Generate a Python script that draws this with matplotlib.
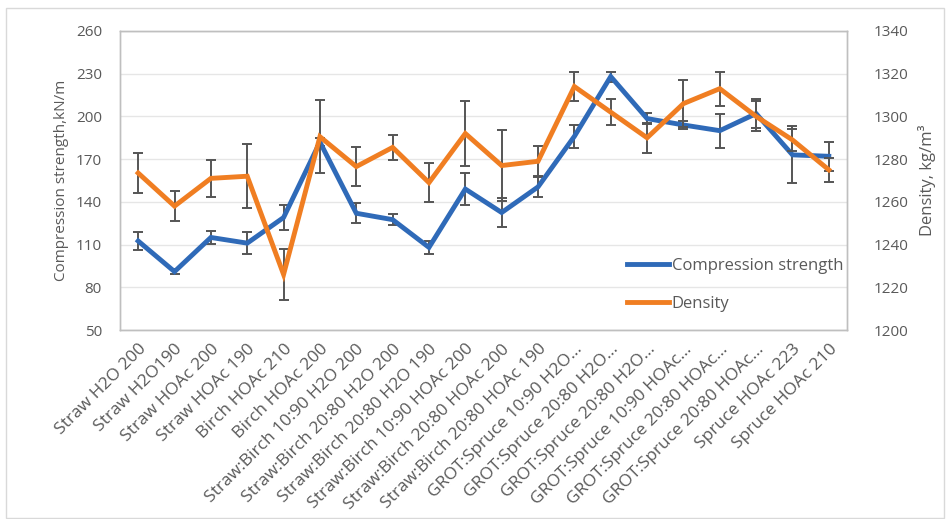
import matplotlib
matplotlib.use("Agg")
import matplotlib.pyplot as plt
from matplotlib.patches import Rectangle
from matplotlib.lines import Line2D
import numpy as np

categories = [
    "Straw H2O 200", "Straw H2O190", "Straw HOAc 200", "Straw HOAc 190",
    "Birch HOAc 210", "Birch HOAc 200", "Straw:Birch 10:90 H2O 200",
    "Straw:Birch 20:80 H2O 200", "Straw:Birch 20:80 H2O 190",
    "Straw:Birch 10:90 HOAc 200", "Straw:Birch 20:80 HOAc 200",
    "Straw:Birch 20:80 HOAc 190", "GROT:Spruce 10:90 H2O…",
    "GROT:Spruce 20:80 H2O…", "GROT:Spruce 20:80 H2O…",
    "GROT:Spruce 10:90 HOAc…", "GROT:Spruce 20:80 HOAc…",
    "GROT:Spruce 20:80 HOAc…", "Spruce HOAc 223", "Spruce HOAc 210",
]

strength = [112.5, 91, 115, 111, 129, 182, 132, 127.5, 108, 149,
            132.5, 150.5, 186, 228, 198.5, 194, 190, 202, 173, 172]
strength_err = [6, 2, 4.5, 7.5, 9, 3, 7, 4, 4.5, 11,
                10.5, 7, 8, 3.5, 4, 3, 12, 10, 20, 10]

density = [1273.5, 1258, 1271, 1272, 1226, 1290.5, 1276.5, 1285.5, 1269, 1292,
           1277, 1279, 1314, 1302, 1290, 1306, 1313, 1300, 1289, 1275]
density_err = [9.5, 7, 8.7, 15, 12, 17, 9, 6, 9, 15,
               16.5, 7, 7, 6, 7, 11, 8, 7, 5, 5.5]

left_ticks = [50, 80, 110, 140, 170, 200, 230, 260]
right_ticks = [1200, 1220, 1240, 1260, 1280, 1300, 1320, 1340]

BLUE = "#2F6AB8"
ORANGE = "#F07E22"
TEXT = "#595959"
GRID = "#E6E6E6"
FRAME = "#BFBFBF"
ERR = "#555555"

plt.rcParams["font.family"] = ["Open Sans", "DejaVu Sans"]

fig = plt.figure(figsize=(9.46, 5.19), dpi=100)
ax = fig.add_axes([120 / 946, 1 - 330 / 519, 727 / 946, 299 / 519])
ax2 = ax.twinx()

x = np.arange(len(categories))

ax.set_xlim(-0.5, len(categories) - 0.5)
ax.set_ylim(50, 260)
ax2.set_ylim(1200, 1340)

ax.set_yticks(left_ticks)
ax2.set_yticks(right_ticks)
ax.yaxis.grid(True, color=GRID, linewidth=1)
ax.set_axisbelow(True)

ax.errorbar(x, strength, yerr=strength_err, fmt="none", ecolor=ERR,
            elinewidth=1.4, capsize=3.3, capthick=1.4, zorder=2)
ax.plot(x, strength, color=BLUE, linewidth=3.5, solid_joinstyle="miter",
        zorder=3)
ax2.errorbar(x, density, yerr=density_err, fmt="none", ecolor=ERR,
             elinewidth=1.4, capsize=3.3, capthick=1.4, zorder=2)
ax2.plot(x, density, color=ORANGE, linewidth=3.5, solid_joinstyle="miter",
         zorder=3)

ax.set_xticks(x)
ax.set_xticklabels(categories, rotation=45, ha="right", rotation_mode="anchor",
                   fontsize=12.5, color=TEXT)
ax.tick_params(axis="x", length=0, pad=8)
ax.tick_params(axis="y", length=0, pad=13, labelsize=11, labelcolor=TEXT)
ax2.tick_params(axis="y", length=0, pad=19, labelsize=11, labelcolor=TEXT)

for a in (ax, ax2):
    for s in a.spines.values():
        s.set_color(FRAME)
        s.set_linewidth(1)

ax.set_ylabel("Compression strength,kN/m", fontsize=11, color=TEXT, labelpad=5)
ax2.set_ylabel("Density, kg/m³", fontsize=12, color=TEXT, labelpad=7)

handles = [Line2D([], [], color=BLUE, linewidth=3.5),
           Line2D([], [], color=ORANGE, linewidth=3.5)]
leg = ax2.legend(handles, ["Compression strength", "Density"],
                 loc="upper left", bbox_to_anchor=(0.697, 0.24),
                 frameon=False, fontsize=12, handlelength=2.55,
                 handletextpad=0.15, labelspacing=1.3, borderpad=0,
                 borderaxespad=0)
for t in leg.get_texts():
    t.set_color(TEXT)

fig.patches.append(Rectangle((6 / 946, 1 / 519), 938 / 946, 510 / 519,
                             transform=fig.transFigure, fill=False,
                             edgecolor="#D9D9D9", linewidth=1))

fig.savefig("out.png", dpi=100)
